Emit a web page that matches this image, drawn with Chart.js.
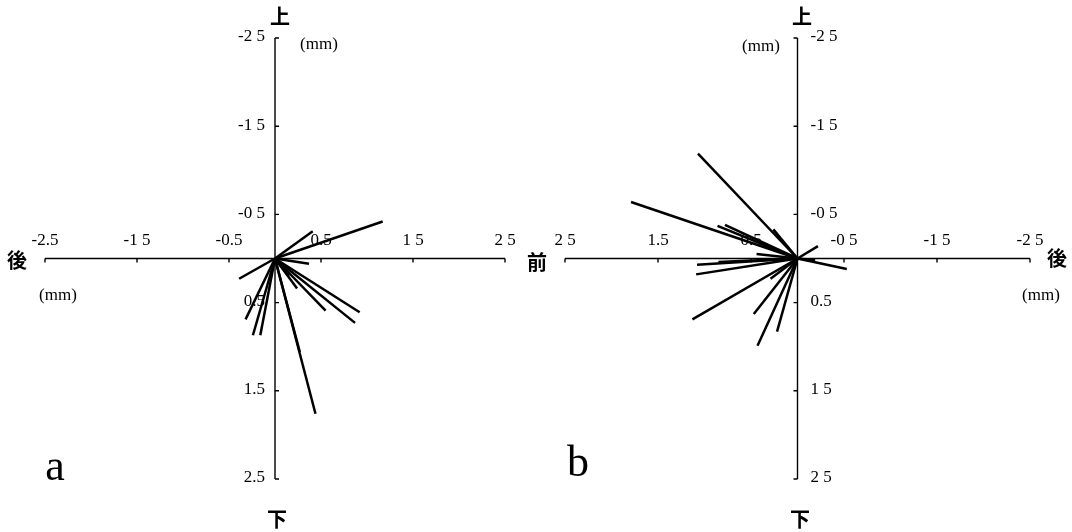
<!DOCTYPE html>
<html>
<head>
<meta charset="utf-8">
<script src="https://cdn.jsdelivr.net/npm/chart.js@4.4.0/dist/chart.umd.min.js"></script>
<style>
  body { margin: 0; background: #fff; }
  #wrap { position: relative; width: 1072px; height: 532px; overflow: hidden; }
  canvas { position: absolute; top: 0; }
  .t { position: absolute; transform: translate(-50%, -50%); font-family: "Liberation Serif", serif; color: #000; white-space: nowrap; line-height: 1; }
  .cjk { font-family: "Noto Sans CJK JP", sans-serif; font-weight: bold; font-size: 20px; }
  .mm { font-size: 17px; }
  .big { font-size: 44px; }
</style>
</head>
<body>
<div id="wrap">
  <canvas id="chartA" width="536" height="532" style="left:0"></canvas>
  <canvas id="chartB" width="536" height="532" style="left:536px"></canvas>

  <div class="t cjk" style="left:280px;top:16px">上</div>
  <div class="t cjk" style="left:277px;top:519px">下</div>
  <div class="t cjk" style="left:17px;top:260px">後</div>
  <div class="t cjk" style="left:537px;top:262px">前</div>
  <div class="t mm" style="left:319px;top:43px">(mm)</div>
  <div class="t mm" style="left:58px;top:294px">(mm)</div>
  <div class="t big" style="left:55px;top:466px">a</div>

  <div class="t cjk" style="left:802px;top:16px">上</div>
  <div class="t cjk" style="left:800px;top:519px">下</div>
  <div class="t cjk" style="left:1057px;top:258px">後</div>
  <div class="t mm" style="left:761px;top:45px">(mm)</div>
  <div class="t mm" style="left:1041px;top:294px">(mm)</div>
  <div class="t big" style="left:578px;top:462px">b</div>
</div>
<script>
// tick positions (mm) and the labels as printed
const tickVals = [-2.5, -1.5, -0.5, 0.5, 1.5, 2.5];
const xLabelsA = ['-2.5', '-1 5', '-0.5', '0.5', '1 5', '2 5'];
const yLabelsA = ['-2 5', '-1 5', '-0 5', '0.5', '1.5', '2.5'];
const xLabelsB = ['-2 5', '-1 5', '-0 5', '0.5', '1.5', '2 5'];
const yLabelsB = ['-2 5', '-1 5', '-0 5', '0.5', '1 5', '2 5'];

// displacement end points in mm (x: forward +, y: downward +)
const segX_A = [1.17, 0.41, 0.37, -0.39, 0.92, 0.87, 0.55, 0.24, 0.44, 0.27, -0.32, -0.24, -0.16, 0.15];
const segY_A = [-0.42, -0.31, 0.06, 0.23, 0.61, 0.73, 0.59, 0.34, 1.76, 1.06, 0.69, 0.87, 0.87, 0.2];

const segX_B = [1.07, 1.79, 0.86, 0.78, 0.26, 0.44, 1.08, 1.09, 0.85, 1.13, 0.47, 0.22, 0.43, 0.29, -0.22, -0.53, -0.19];
const segY_B = [-1.19, -0.64, -0.37, -0.38, -0.33, -0.05, 0.07, 0.18, 0.04, 0.69, 0.63, 0.83, 0.99, 0.23, -0.14, 0.12, 0.02];

function makeDatasets(xs, ys) {
    return xs.map((x, i) => ({
        data: [{ x: 0, y: 0 }, { x: x, y: ys[i] }],
        showLine: true,
        borderColor: '#000',
        borderWidth: 2.5,
        pointRadius: 0,
        pointHoverRadius: 0
    }));
}

// draws the cross-shaped axes through the origin
function crossAxes(xLabels, yLabels, tickSide) {
    return {
        id: 'crossAxes',
        beforeDatasetsDraw(chart) {
            const { ctx, scales: { x, y } } = chart;
            const x0 = x.getPixelForValue(0);
            const y0 = y.getPixelForValue(0);
            ctx.save();
            ctx.strokeStyle = '#000';
            ctx.lineWidth = 1.4;
            ctx.beginPath();
            ctx.moveTo(x.getPixelForValue(-2.5), y0);
            ctx.lineTo(x.getPixelForValue(2.5), y0);
            ctx.moveTo(x0, y.getPixelForValue(-2.5));
            ctx.lineTo(x0, y.getPixelForValue(2.5));
            tickVals.forEach(v => {
                const px = x.getPixelForValue(v);
                ctx.moveTo(px, y0);
                ctx.lineTo(px, y0 + 4);
                const py = y.getPixelForValue(v);
                ctx.moveTo(x0, py);
                ctx.lineTo(x0 + tickSide * 4, py);
            });
            ctx.stroke();

            ctx.fillStyle = '#000';
            ctx.font = '17px "Liberation Serif"';
            ctx.textBaseline = 'middle';
            ctx.textAlign = 'center';
            tickVals.forEach((v, i) => {
                ctx.fillText(xLabels[i], x.getPixelForValue(v), y0 - 18);
            });
            if (tickSide > 0) {
                ctx.textAlign = 'right';
                tickVals.forEach((v, i) => ctx.fillText(yLabels[i], x0 - 10, y.getPixelForValue(v) - 1));
            } else {
                ctx.textAlign = 'left';
                tickVals.forEach((v, i) => ctx.fillText(yLabels[i], x0 + 13, y.getPixelForValue(v) - 1));
            }
            ctx.restore();
        }
    };
}

function makeChart(id, xs, ys, reverseX, padding, xLabels, yLabels, tickSide) {
    return new Chart(document.getElementById(id), {
        type: 'scatter',
        data: { datasets: makeDatasets(xs, ys) },
        options: {
            responsive: false,
            animation: false,
            layout: { padding: padding },
            plugins: { legend: { display: false }, tooltip: { enabled: false } },
            scales: {
                x: { type: 'linear', min: -2.5, max: 2.5, reverse: reverseX, display: false },
                y: { type: 'linear', min: -2.5, max: 2.5, reverse: true, display: false }
            }
        },
        plugins: [crossAxes(xLabels, yLabels, tickSide)]
    });
}

makeChart('chartA', segX_A, segY_A, false, { left: 45, right: 31, top: 38, bottom: 53 }, xLabelsA, yLabelsA, 1);
makeChart('chartB', segX_B, segY_B, true, { left: 29, right: 42, top: 38, bottom: 53 }, xLabelsB, yLabelsB, -1);
</script>
</body>
</html>
